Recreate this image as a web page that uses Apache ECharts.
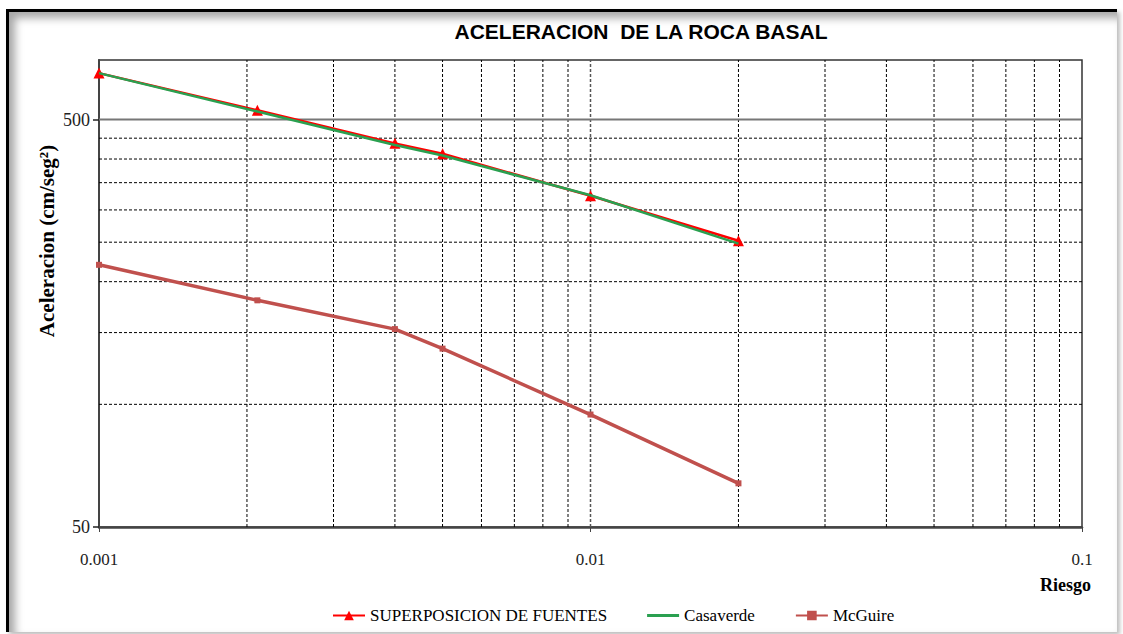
<!DOCTYPE html>
<html>
<head>
<meta charset="utf-8">
<script src="https://cdn.jsdelivr.net/npm/echarts@6/dist/echarts.min.js"></script>
<style>
html,body{margin:0;padding:0;background:#fff;}
#frame{position:absolute;left:6px;top:9px;width:1108px;height:620px;border-left:3px solid #000;border-top:3px solid #000;box-shadow:inset 6px 6px 8px rgba(0,0,0,0.35), 3px 3px 4px rgba(0,0,0,0.25);}
#chart{position:absolute;left:0;top:0;width:1123px;height:634px;}
</style>
</head>
<body>
<div id="frame"></div>
<div id="chart"></div>
<script>
// Data
const riesgo = [0.001, 0.0021, 0.004, 0.005, 0.01, 0.02];
const superposicion = [650, 527, 437, 412, 325, 252];
const casaverde = [650, 523, 433, 408, 326, 248];
const mcguire = [220, 180, 153, 137, 94.4, 64];
const xTickLabels = [0.001, 0.01, 0.1];
const yTickLabels = [50, 500];
const xMinorGrid = [0.002,0.003,0.004,0.005,0.006,0.007,0.008,0.009,0.01,0.02,0.03,0.04,0.05,0.06,0.07,0.08,0.09];
const yMinorGrid = [100,150,200,250,300,350,400,450];
const yMajorGrid = [500];
const xRange = [0.001, 0.1];
const yRange = [50, 700];

const chart = echarts.init(document.getElementById('chart'), null, {renderer:'svg'});
const dashStyle = {type:[3,2], color:'#000', width:1};

const gridSeries = [];
function gridLine(points, style){
  gridSeries.push({type:'line', data:points, symbol:'none', silent:true, z:1,
    lineStyle:style, emphasis:{disabled:true}, tooltip:{show:false}});
}
xMinorGrid.forEach(v => gridLine([[v, yRange[0]],[v, yRange[1]]], v===0.01 ? {type:[3,2], color:'#555', width:1.5} : dashStyle));
yMinorGrid.forEach(v => gridLine([[xRange[0], v],[xRange[1], v]], dashStyle));
yMajorGrid.forEach(v => gridLine([[xRange[0], v],[xRange[1], v]], {type:'solid', color:'#777', width:2}));

const fontSerif = '"Liberation Serif","Times New Roman",serif';
chart.setOption({
  animation:false,
  title:{
    text:'ACELERACION  DE LA ROCA BASAL',
    left:636, top:16, textAlign:'center',
    textStyle:{fontFamily:'"Liberation Sans",Arial,sans-serif', fontWeight:'bold', fontSize:21, color:'#000'}
  },
  grid:{left:99, top:60, width:983, height:467, show:true, borderColor:'#333', borderWidth:1.5, backgroundColor:'transparent'},
  xAxis:{
    type:'log', logBase:10, min:xRange[0], max:xRange[1],
    axisLine:{show:true, onZero:false, lineStyle:{color:'#444', width:2.5}},
    axisTick:{show:true, customValues:xTickLabels, length:5, lineStyle:{color:'#444', width:1}},
    minorTick:{show:false},
    splitLine:{show:false},
    axisLabel:{customValues:xTickLabels, margin:24, fontFamily:fontSerif, fontSize:17, color:'#222',
      formatter:v => String(v)}
  },
  yAxis:{
    type:'log', logBase:10, min:yRange[0], max:yRange[1],
    axisLine:{show:true, onZero:false, lineStyle:{color:'#444', width:2}},
    axisTick:{show:true, customValues:yTickLabels, length:6, lineStyle:{color:'#222', width:1.5}},
    minorTick:{show:false},
    splitLine:{show:false},
    axisLabel:{customValues:yTickLabels, margin:9, fontFamily:fontSerif, fontSize:18, color:'#222',
      formatter:v => String(v)}
  },
  legend:{
    left:327, top:602, itemWidth:32, itemHeight:12, itemGap:40,
    textStyle:{fontFamily:fontSerif, fontSize:17, color:'#000'},
    data:[
      {name:'SUPERPOSICION DE FUENTES'},
      {name:'Casaverde', icon:'path://M0,0 L32,0 L32,3 L0,3 Z'},
      {name:'McGuire'}
    ]
  },
  graphic:[
    {type:'text', left:1040, top:576, style:{text:'Riesgo', font:'bold 18px "Liberation Serif", serif', fill:'#000'}},
    {type:'text', x:47, y:241, rotation:Math.PI/2, style:{text:'Aceleracion (cm/seg²)', font:'bold 21px "Liberation Serif", serif', fill:'#000', align:'center', verticalAlign:'middle'}}
  ],
  series:gridSeries.concat([
    {
      name:'McGuire', type:'line', data:riesgo.map((x,i)=>[x,mcguire[i]]),
      symbol:'rect', symbolSize:6, color:'#C0504D',
      lineStyle:{width:3.5, color:'#C0504D'}, itemStyle:{color:'#C0504D'}, z:3
    },
    {
      name:'SUPERPOSICION DE FUENTES', type:'line', data:riesgo.map((x,i)=>[x,superposicion[i]]),
      symbol:'triangle', symbolSize:11, color:'#FF0000',
      lineStyle:{width:2.5, color:'#FF0000'}, itemStyle:{color:'#FF0000'}, z:4
    },
    {
      name:'Casaverde', type:'line', data:riesgo.map((x,i)=>[x,casaverde[i]]),
      symbol:'none', color:'#2AA050',
      lineStyle:{width:2.5, color:'#2AA050'}, itemStyle:{color:'#2AA050'}, z:5
    }
  ])
});
</script>
</body>
</html>
